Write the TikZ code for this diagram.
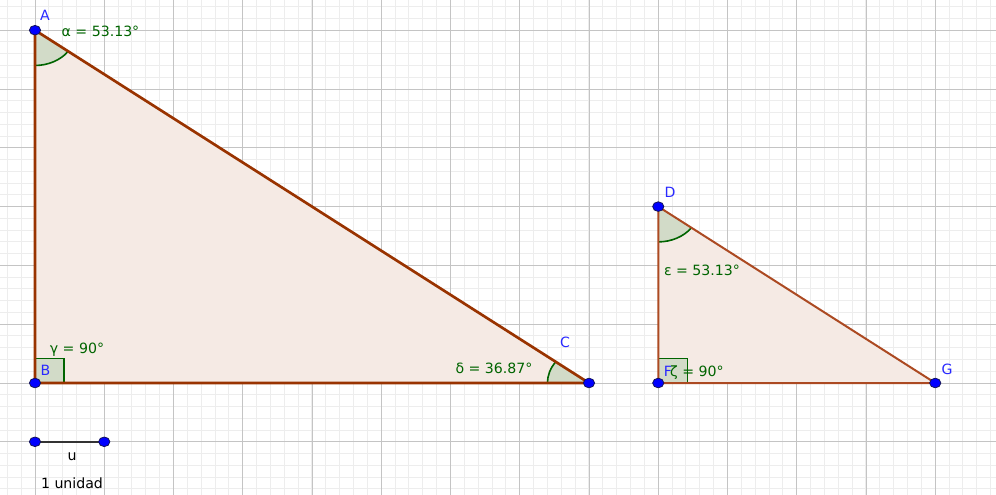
\documentclass[tikz,border=0pt]{standalone}
\usepackage{fontspec}
\setmainfont{DejaVu Sans}
\definecolor{gridmajor}{RGB}{196,196,196}
\definecolor{gridminor}{RGB}{237,237,237}
\definecolor{ggbrown}{RGB}{153,51,0}
\definecolor{ggbrownlight}{RGB}{172,74,34}
\definecolor{trifill}{RGB}{245,234,228}
\definecolor{angfill}{RGB}{210,219,200}
\definecolor{anggreen}{RGB}{0,100,0}
\definecolor{ptblue}{RGB}{0,0,255}
\definecolor{ptedge}{RGB}{20,20,90}
\definecolor{lblblue}{RGB}{40,40,255}
\begin{document}
\begin{tikzpicture}[x=51.9375pt,y=44.1pt,
  lbl/.style={font=\fontsize{10.6}{12}\selectfont, inner sep=0pt, anchor=base},
  ptlbl/.style={lbl, text=lblblue},
  anglbl/.style={lbl, text=anggreen},
  sideA/.style={draw=ggbrown, line width=2pt, line join=round},
  sideB/.style={draw=ggbrownlight, line width=1.5pt, line join=round},
  trifillst/.style={fill=trifill},
  sector/.style={fill=angfill},
  arcline/.style={draw=anggreen, line width=1.2pt},
  rightmark/.style={draw=anggreen, line width=1.1pt},
  ptmark/.style={fill=ptblue, draw=ptedge, line width=0.6pt},
  useg/.style={draw=black!80, line width=1.5pt}]
\useasboundingbox (-0.50542,-1.88776) rectangle (13.8773,6.5136);
\begin{scope}
  \clip (-0.50542,-1.88776) rectangle (13.8773,6.5136);
  \draw[gridminor, line width=0.75pt] (-1,-2) grid[step=0.2] (14,7);
  \draw[gridmajor, line width=0.75pt] (-1,-2) grid[step=1] (14,7);
\end{scope}
% points
\coordinate (A) at (0,6);
\coordinate (B) at (0,0);
\coordinate (C) at (8,0);
\coordinate (D) at (9,3);
\coordinate (F) at (9,0);
\coordinate (G) at (13,0);
\coordinate (U1) at (0,-1);
\coordinate (U2) at (1,-1);
% fills
\fill[trifillst] (A) -- (B) -- (C) -- cycle;
\fill[trifillst] (D) -- (F) -- (G) -- cycle;
% angle sectors
\fill[sector] (A) -- ++(-90:0.6) arc[start angle=-90, end angle=-36.87, radius=0.6] -- cycle;
\fill[sector] (C) -- ++(143.13:0.6) arc[start angle=143.13, end angle=180, radius=0.6] -- cycle;
\fill[sector] (D) -- ++(-90:0.6) arc[start angle=-90, end angle=-36.87, radius=0.6] -- cycle;
\fill[sector] (B) rectangle ++(0.42,0.42);
\fill[sector] (F) rectangle ++(0.42,0.42);
\draw[arcline] (A) ++(-90:0.6) arc[start angle=-90, end angle=-36.87, radius=0.6];
\draw[arcline] (C) ++(143.13:0.6) arc[start angle=143.13, end angle=180, radius=0.6];
\draw[arcline] (D) ++(-90:0.6) arc[start angle=-90, end angle=-36.87, radius=0.6];
\draw[rightmark] (B) ++(0.42,0) -- ++(0,0.42) -- ++(-0.42,0);
\draw[rightmark] (F) ++(0.42,0) -- ++(0,0.42) -- ++(-0.42,0);
% sides
\draw[sideA] (A) -- (B) -- (C) -- cycle;
\draw[sideB] (D) -- (F) -- (G) -- cycle;
% unit segment
\draw[useg] (U1) -- (U2);
% point markers
\foreach \p in {A,B,C,D,F,G,U1,U2}
  \filldraw[ptmark] (\p) circle[x radius=4.2pt, y radius=3.6pt];
% labels
\node[ptlbl] (lA) at (0.1444,6.1565) {A};
\node[ptlbl] (lB) at (0.1516,0.1361) {B};
\node[ptlbl] (lC) at (7.6534,0.6122) {C};
\node[ptlbl] (lD) at (9.1697,3.1633) {D};
\node[ptlbl] (lF) at (9.1408,0.1190) {F};
\node[ptlbl] (lG) at (13.1697,0.1531) {G};
\node[anglbl] (la) at (0.9458,5.8844) {α = 53.13°};
\node[anglbl] (lg) at (0.6065,0.5102) {γ = 90°};
\node[anglbl] (ld) at (6.6282,0.1701) {δ = 36.87°};
\node[anglbl] (le) at (9.6318,1.8367) {ε = 53.13°};
\node[anglbl] (lz) at (9.5596,0.1190) {ζ = 90°};
\node[lbl] (lu) at (0.5343,-1.3095) {u};
\node[lbl] (lunit) at (0.5343,-1.7857) {1 unidad};
\end{tikzpicture}
\end{document}
